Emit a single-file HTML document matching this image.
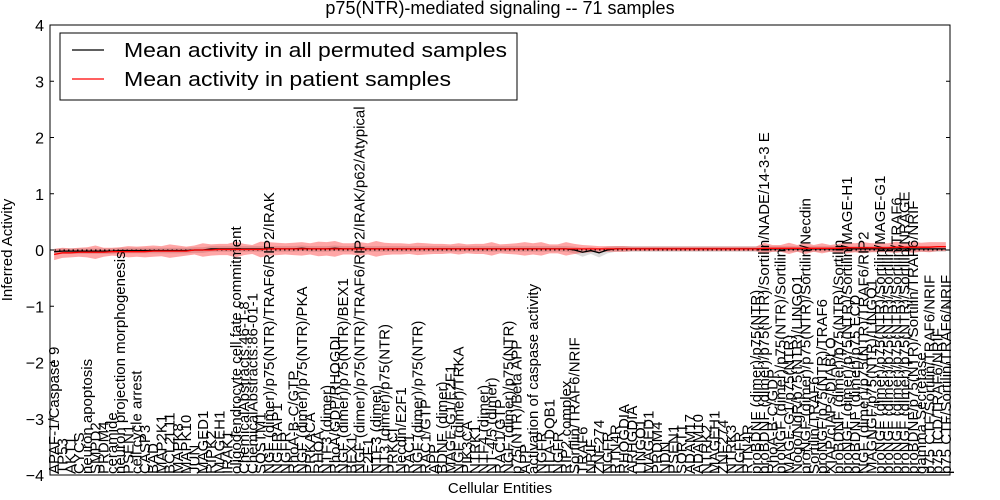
<!DOCTYPE html>
<html><head><meta charset="utf-8"><style>
html,body{margin:0;padding:0;background:#fff;}
svg{display:block;font-family:"Liberation Sans",sans-serif;}
</style></head><body>
<svg id="chart" width="1000" height="500" viewBox="0 0 1000 500">
<rect width="1000" height="500" fill="#fff"/>
<text x="500" y="14" font-size="18" text-anchor="middle">p75(NTR)-mediated signaling -- 71 samples</text>
<g id="bands"></g>
<g id="labels"></g>
<g id="lines"></g>
<g id="axes"></g>
<text x="500" y="493" font-size="15" text-anchor="middle">Cellular Entities</text>
<text transform="translate(12,250) rotate(-90)" font-size="15" text-anchor="middle">Inferred Activity</text>
<g>
<rect x="60" y="33" width="457" height="67" fill="#fff" stroke="#000" stroke-width="1"/>
<line x1="72" y1="50" x2="104" y2="50" stroke="#000" stroke-width="1.2"/>
<text x="124" y="57" font-size="20" textLength="383" lengthAdjust="spacingAndGlyphs">Mean activity in all permuted samples</text>
<line x1="72" y1="79" x2="104" y2="79" stroke="#f00" stroke-width="1.2"/>
<text x="124" y="86" font-size="20" textLength="327" lengthAdjust="spacingAndGlyphs">Mean activity in patient samples</text>
</g>
</svg>
<script>
const categories = ["APAF-1/Caspase 9","TP53","AKT1","CYCS","neuron apoptosis","SMPD2","PRDM4","ceramide","neuron projection morphogenesis","PSEN1","cell cycle arrest","CASP3","BAD","MAP2K1","BCL2L11","MAPK8","MAPK10","JUN","MAGED1","RIPK2","MAGEH1","IRAK1","oligodendrocyte cell fate commitment","ChemicalAbstracts:46-1-8","ChemicalAbstracts:86-01-1","SQSTM1","NGF (dimer)/p75(NTR)/TRAF6/RIP2/IRAK","NGFRAP1","NGFR","RhoA-B-C/GTP","NGF (dimer)/p75(NTR)/PKA","PRKACA","RHOA","NTF3 (dimer)","RhoA/GDP/RHOGDI","NGF (dimer)/p75(NTR)/BEX1","BEX1","NGF (dimer)/p75(NTR)/TRAF6/RIP2/IRAK/p62/Atypical","E2F1","NTF3 (dimer)","NT3 (dimer)/p75(NTR)","PRKCI","Necdin/E2F1","RAC1","NGF (dimer)/p75(NTR)","RAC1/GTP","APP","BDNF (dimer)","MAGE-G1/E2F1","NGF (dimer)/TRKA","PIK3CA","NTRK1","NTF4 (dimer)","NT-4/5 (dimer)","RAC1/GTP","NGF (dimer)/p75(NTR)","p75(NTR)/Beta APP","APP","activation of caspase activity","NGFR","HLA-DQB1","NGFR","RIP2 complex","Sortilin/TRAF6/NRIF","TRAF6","NRIF","ZNF274","NGFR","RTN4R","RHOGDIA","ARHGDIA","LINGO1","MAGED1","PRDM4","NDN","PSEN1","SORT1","ADAM17","ADAM10","NTRK2","MAGEH1","ZNF274","NTRK3","NGFR","RTN4R","proBDNF (dimer)/p75(NTR)","proBDNF (dimer)/p75(NTR)/Sortilin/NADE/14-3-3 E","RhoA-B-C/GDP","proNGF (dimer)/p75(NTR)/Sortilin","MAGE-G1/p75(NTR)","Nogo/NgR/p75(NTR)/LINGO1","proNGF (dimer)/p75(NTR)/Sortilin/Necdin","Sortilin/TRAF6","proNGF/p75(NTR)/TRAF6","XIAP/cIAPs/DIABLO","proBDNF (dimer)/p75(NTR)/Sortilin","proNGF (dimer)/p75(NTR)/Sortilin/MAGE-H1","proBDNF (dimer)/p75 ECD","NGF (dimer)/p75(NTR)/TRAF6/RIP2","MAGNGF/p75(NTR)/LINGO1","proNGF (dimer)/p75(NTR)/Sortilin/MAGE-G1","proNGF (dimer)/p75(NTR)/Sortilin","proNGF (dimer)/p75(NTR)/Sortilin/TRAF6","proNGF (dimer)/p75(NTR)/Sortilin/NRAGE","proBDNF/p75(NTR)/Sortilin/TRAF6/NRIF","gamma Secretase","p75 CTF/Sortilin/TRAF6/NRIF","p75 ICD/TRAF6/NRIF","p75 CTF/Sortilin/TRAF6/NRIF"];
const patientMean = [-0.08,-0.05,-0.05,-0.04,-0.04,-0.04,-0.04,-0.03,-0.03,-0.03,-0.03,-0.03,-0.02,-0.02,-0.02,-0.02,-0.02,0.0,0.0,0.0,0.01,0.01,0.01,0.01,0.01,0.01,0.02,0.02,0.02,0.02,0.02,0.02,0.02,0.02,0.02,0.02,0.02,0.02,0.02,0.02,0.02,0.02,0.02,0.02,0.02,0.02,0.02,0.02,0.02,0.02,0.02,0.02,0.02,0.02,0.02,0.02,0.02,0.02,0.02,0.02,0.02,0.02,0.02,0.02,0.02,0.02,0.02,0.02,0.02,0.02,0.02,0.02,0.02,0.02,0.02,0.02,0.02,0.02,0.02,0.02,0.02,0.02,0.02,0.02,0.02,0.02,0.03,0.03,0.03,0.03,0.03,0.03,0.03,0.03,0.03,0.03,0.04,0.04,0.04,0.04,0.04,0.04,0.05,0.05,0.05,0.05,0.05,0.06,0.06,0.06,0.07];
const patientSpread = [0.1,0.09,0.08,0.08,0.09,0.12,0.08,0.07,0.08,0.1,0.09,0.1,0.1,0.09,0.12,0.1,0.08,0.08,0.12,0.1,0.1,0.1,0.14,0.1,0.08,0.14,0.12,0.11,0.1,0.11,0.12,0.1,0.13,0.12,0.14,0.1,0.1,0.12,0.1,0.14,0.11,0.1,0.1,0.09,0.11,0.1,0.09,0.09,0.08,0.1,0.08,0.09,0.09,0.12,0.08,0.09,0.1,0.12,0.1,0.12,0.08,0.08,0.12,0.09,0.07,0.06,0.05,0.05,0.05,0.05,0.04,0.04,0.04,0.04,0.04,0.04,0.04,0.04,0.04,0.04,0.04,0.04,0.04,0.04,0.04,0.04,0.1,0.06,0.06,0.1,0.06,0.1,0.06,0.09,0.06,0.08,0.1,0.08,0.1,0.08,0.08,0.08,0.1,0.08,0.1,0.08,0.09,0.08,0.08,0.07,0.05];
const permutedMean = [-0.03,-0.02,-0.02,-0.02,-0.02,-0.02,-0.02,-0.02,-0.01,-0.01,-0.01,-0.01,-0.01,-0.01,-0.01,-0.01,-0.01,0.0,0.0,0.02,0.02,0.02,0.02,0.02,0.02,0.02,0.02,0.02,0.02,0.02,0.03,0.02,0.02,0.02,0.03,0.02,0.02,0.02,0.02,0.02,0.02,0.02,0.02,0.02,0.02,0.02,0.02,0.02,0.02,0.02,0.02,0.02,0.02,0.02,0.02,0.02,0.02,0.02,0.02,0.02,0.02,0.02,0.02,0.0,-0.04,-0.01,-0.05,0.0,0.02,0.02,0.02,0.02,0.02,0.02,0.02,0.02,0.02,0.02,0.02,0.02,0.02,0.02,0.02,0.02,0.02,0.02,0.02,0.02,0.02,0.02,0.02,0.02,0.02,0.02,0.02,0.02,0.02,0.02,0.02,0.02,0.02,0.02,0.02,0.02,0.02,0.02,0.02,0.02,0.02,0.02,0.02];
const permutedSpread = [0.05,0.05,0.05,0.05,0.05,0.05,0.05,0.05,0.05,0.05,0.05,0.05,0.05,0.05,0.05,0.05,0.05,0.05,0.05,0.05,0.05,0.05,0.05,0.05,0.05,0.05,0.05,0.05,0.05,0.05,0.05,0.05,0.05,0.05,0.05,0.05,0.05,0.05,0.05,0.05,0.05,0.05,0.05,0.05,0.05,0.05,0.05,0.05,0.05,0.05,0.05,0.05,0.05,0.05,0.05,0.05,0.05,0.05,0.05,0.05,0.05,0.05,0.05,0.06,0.08,0.06,0.08,0.06,0.05,0.05,0.05,0.05,0.05,0.05,0.05,0.05,0.05,0.05,0.05,0.05,0.05,0.05,0.05,0.05,0.05,0.05,0.05,0.05,0.05,0.05,0.05,0.05,0.05,0.05,0.05,0.05,0.05,0.05,0.05,0.05,0.05,0.05,0.05,0.05,0.05,0.05,0.05,0.05,0.05,0.05,0.05];
const yTicks = [4,3,2,1,0,-1,-2,-3,-4];

const X0=50,X1=950,Y0=25,Y1=475,YMIN=-4,YMAX=4;
const n=Math.min(categories.length,patientMean.length,patientSpread.length,permutedMean.length,permutedSpread.length);
const step=(X1-X0)/n;
function xs(i){return X0+step*(i+0.5);}
function ys(v){return Y1-(v-YMIN)/(YMAX-YMIN)*(Y1-Y0);}
const NS="http://www.w3.org/2000/svg";
function mk(t,a,p){const e=document.createElementNS(NS,t);for(const k in a)e.setAttribute(k,a[k]);p.appendChild(e);return e;}
const bands=document.getElementById('bands'),lines=document.getElementById('lines'),labels=document.getElementById('labels'),axes=document.getElementById('axes');

function band(mean,spread,fill,op,name){
  let up=[],dn=[];
  for(let i=0;i<n;i++){up.push(xs(i)+','+ys(mean[i]+spread[i]));dn.unshift(xs(i)+','+ys(mean[i]-spread[i]));}
  const p=mk('polygon',{points:up.concat(dn).join(' '),fill:fill,'fill-opacity':op},bands);
  
  
}
band(permutedMean,permutedSpread,'#999',0.35,'permuted-band');
band(patientMean,patientSpread,'#f00',0.35,'patient-band');

const z=mk('line',{x1:X0,x2:X1,y1:ys(0),y2:ys(0),stroke:'#000','stroke-dasharray':'1.5,3','stroke-width':1},lines);



function line(mean,color,name){
  const pts=mean.slice(0,n).map((v,i)=>xs(i)+','+ys(v)).join(' ');
  const p=mk('polyline',{points:pts,fill:'none',stroke:color,'stroke-width':1.3},lines);
  
  
}
line(permutedMean,'#000','permuted-mean-line');
line(patientMean,'#f00','patient-mean-line');

for(let i=0;i<n;i++){
  const x=xs(i)+5;
  const t=mk('text',{transform:'translate('+x+',474) rotate(-90)','font-size':15},labels);
  t.textContent=categories[i];
  
  
}

const fr=mk('rect',{x:X0,y:Y0,width:X1-X0,height:Y1-Y0,fill:'none',stroke:'#000','stroke-width':1},axes);


yTicks.forEach(v=>{
  const y=ys(v);
  const l=mk('line',{x1:X0,x2:X0+4,y1:y,y2:y,stroke:'#000'},axes);
  
  
  const r=mk('line',{x1:X1-4,x2:X1,y1:y,y2:y,stroke:'#000'},axes);
  
  
  const t=mk('text',{x:X0-6,y:y+6,'font-size':16,'text-anchor':'end'},axes);
  t.textContent=(v<0?'\u2212':'')+Math.abs(v);
  
  
});
</script>
</body></html>
